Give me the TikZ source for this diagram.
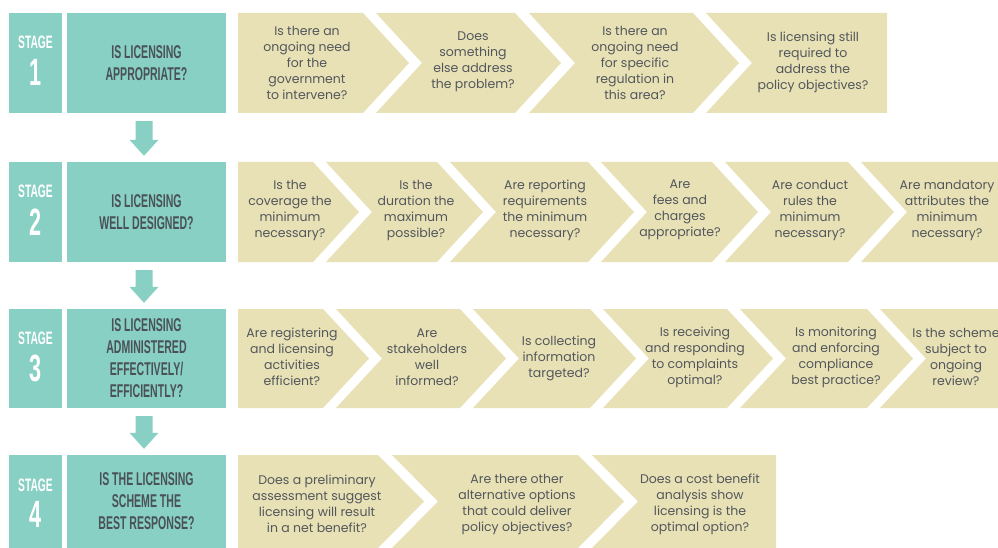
\documentclass[tikz,border=0pt]{standalone}
\usepackage{fontspec}
\setmainfont{Poppins}
\newfontfamily\condfont[FakeStretch=0.57]{Liberation Sans}
\usetikzlibrary{calc}
\definecolor{stageteal}{HTML}{88D0C4}
\definecolor{chevbeige}{HTML}{E8E1B5}
\definecolor{titletext}{HTML}{4A5158}
\definecolor{qtext}{HTML}{52575C}
\newcommand\chevd{46}
\newcommand\chevfirst[3]{\fill[chev] (238,#2) -- (#1,#2) -- ({#1+\chevd},{(#2+#3)/2}) -- (#1,#3) -- (238,#3) -- cycle;}
\newcommand\chevmid[4]{\fill[chev] (#1,#3) -- (#2,#3) -- ({#2+\chevd},{(#3+#4)/2}) -- (#2,#4) -- (#1,#4) -- ({#1+\chevd},{(#3+#4)/2}) -- cycle;}
\newcommand\chevlast[4]{\fill[chev] (#1,#3) -- (#2,#3) -- (#2,#4) -- (#1,#4) -- ({#1+\chevd},{(#3+#4)/2}) -- cycle;}
\newcommand\stagearrow[2]{\fill[arr] ($(#1.south)+(-11,8)$) -- ($(#1.south)+(6,8)$) -- ($(#2.north)+(6,-22)$) -- ($(#2.north)+(12,-22)$) -- ($(#2.north)+(-2.5,-6)$) -- ($(#2.north)+(-17,-22)$) -- ($(#2.north)+(-11,-22)$) -- cycle;}
\tikzset{
  chev/.style={fill=chevbeige},
  arr/.style={fill=stageteal},
  labelbox/.style={fill=stageteal, minimum width=53pt, inner sep=0pt},
  titlebox/.style={fill=stageteal, minimum width=159pt, inner sep=0pt, text=titletext, align=center,
    font=\condfont\bfseries\fontsize{18.5}{22}\selectfont},
  stagetxt/.style={text=white, inner sep=0pt, font=\condfont\bfseries\fontsize{18}{18}\selectfont},
  stagenum/.style={text=white, inner sep=0pt, font=\condfont\bfseries\fontsize{38}{38}\selectfont},
  q/.style={text=qtext, align=center, inner sep=0pt, font=\fontsize{12.5}{16}\selectfont},
}
\begin{document}
\begin{tikzpicture}[x=1pt,y=-1pt]
\useasboundingbox (0,0) rectangle (998,548);
\clip (0,0) rectangle (998,548);
\fill[white] (0,0) rectangle (998,548);
% stage boxes
\node[labelbox, minimum height=100pt] (b1) at (35.5,63) {};
\node[titlebox, minimum height=100pt] (t1) at (146.5,63) {IS LICENSING\\APPROPRIATE?};
\node[labelbox, minimum height=100pt] (b2) at (35.5,212) {};
\node[titlebox, minimum height=100pt] (t2) at (146.5,212) {IS LICENSING\\WELL DESIGNED?};
\node[labelbox, minimum height=99pt] (b3) at (35.5,358.5) {};
\node[titlebox, minimum height=99pt] (t3) at (146.5,358.5) {IS LICENSING\\ADMINISTERED\\EFFECTIVELY/\\EFFICIENTLY?};
\node[labelbox, minimum height=93pt] (b4) at (35.5,501.5) {};
\node[titlebox, minimum height=93pt] (t4) at (146.5,501.5) {IS THE LICENSING\\SCHEME THE\\BEST RESPONSE?};
% stage labels
\foreach \i/\n in {1/1,2/2,3/3,4/4}{
  \node[stagetxt] (st\i) at ($(b\i.north)+(0,30)$) {STAGE};
  \node[stagenum] (sn\i) at ($(b\i.north)+(0,60)$) {\n};
}
% arrows between stages
\stagearrow{t1}{t2}
\stagearrow{t2}{t3}
\stagearrow{t3}{t4}
% row 1
\chevfirst{363}{13}{113}
\chevmid{376}{515}{13}{113}
\chevmid{529}{693}{13}{113}
\chevlast{706}{887}{13}{113}
\node[q] (q11) at (307,63) {Is there an\\ongoing need\\for the\\government\\to intervene?};
\node[q] (q12) at (473,62) {Does\\something\\else address\\the problem?};
\node[q] (q13) at (635,63) {Is there an\\ongoing need\\for specific\\regulation in\\this area?};
\node[q] (q14) at (813,62) {Is licensing still\\required to\\address the\\policy objectives?};
% row 2
\chevfirst{313}{162}{262}
\chevmid{326}{437}{162}{262}
\chevmid{450}{588}{162}{262}
\chevmid{601}{712}{162}{262}
\chevmid{725}{848}{162}{262}
\chevlast{861}{1010}{162}{262}
\node[q] (q21) at (290,210) {Is the\\coverage the\\minimum\\necessary?};
\node[q] (q22) at (416,210) {Is the\\duration the\\maximum\\possible?};
\node[q] (q23) at (545,210) {Are reporting\\requirements\\the minimum\\necessary?};
\node[q] (q24) at (680,210) {Are\\fees and\\charges\\appropriate?};
\node[q] (q25) at (810,210) {Are conduct\\rules the\\minimum\\necessary?};
\node[q] (q26) at (947,210) {Are mandatory\\attributes the\\minimum\\necessary?};
% row 3
\chevfirst{323}{309}{408}
\chevmid{336}{460}{309}{408}
\chevmid{473}{590}{309}{408}
\chevmid{603}{727}{309}{408}
\chevmid{740}{867}{309}{408}
\chevlast{880}{1010}{309}{408}
\node[q] (q31) at (292,357) {Are registering\\and licensing\\activities\\efficient?};
\node[q] (q32) at (427,357) {Are\\stakeholders\\well\\informed?};
\node[q] (q33) at (559,358) {Is collecting\\information\\targeted?};
\node[q] (q34) at (695,357) {Is receiving\\and responding\\to complaints\\optimal?};
\node[q] (q35) at (836,357) {Is monitoring\\and enforcing\\compliance\\best practice?};
\node[q] (q36) at (956,357) {Is the scheme\\subject to\\ongoing\\review?};
% row 4
\chevfirst{378}{455}{548}
\chevmid{392}{578}{455}{548}
\chevlast{592}{776}{455}{548}
\node[q] (q41) at (317,504) {Does a preliminary\\assessment suggest\\licensing will result\\in a net benefit?};
\node[q] (q42) at (517,504) {Are there other\\alternative options\\that could deliver\\policy objectives?};
\node[q] (q43) at (700,504) {Does a cost benefit\\analysis show\\licensing is the\\optimal option?};
\end{tikzpicture}
\end{document}
